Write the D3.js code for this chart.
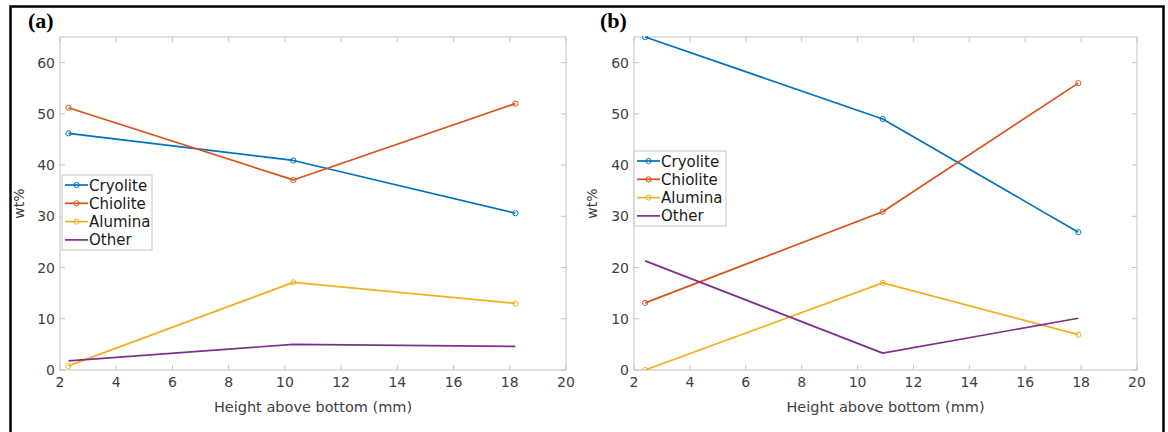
<!DOCTYPE html>
<html>
<head>
<meta charset="utf-8">
<script src="https://cdn.jsdelivr.net/npm/d3@7"></script>
<style>
  html, body { margin: 0; padding: 0; background: #fff; }
  svg { display: block; }
  text { font-family: "DejaVu Sans", sans-serif; }
  text.panel-label { font-family: "Liberation Serif", "Times New Roman", serif; font-weight: bold; }
</style>
</head>
<body>
<svg id="fig" width="1168" height="432"></svg>
<script>
// Composition (wt%) of bath phases versus height above the bottom
const seriesNames = ["Cryolite", "Chiolite", "Alumina", "Other"];
const seriesColors = ["#0072BD", "#D95319", "#EDB120", "#7E2F8E"];
const seriesMarkers = [true, true, true, false];

const xTicks = [2, 4, 6, 8, 10, 12, 14, 16, 18, 20];
const yTicks = [0, 10, 20, 30, 40, 50, 60];

// Panel (a)
const heightA   = [2.3, 10.3, 18.2];
const cryoliteA = [46.2, 40.9, 30.6];
const chioliteA = [51.2, 37.1, 52.0];
const aluminaA  = [0.8, 17.1, 13.0];
const otherA    = [1.8, 5.0, 4.6];

// Panel (b)
const heightB   = [2.4, 10.9, 17.9];
const cryoliteB = [65.0, 49.0, 26.9];
const chioliteB = [13.1, 30.9, 56.0];
const aluminaB  = [0.0, 17.0, 6.9];
const otherB    = [21.3, 3.3, 10.1];

const svg = d3.select("#fig");

// outer frame
svg.append("rect")
  .attr("x", 10.5).attr("y", 6.5)
  .attr("width", 1153).attr("height", 440)
  .attr("fill", "none").attr("stroke", "#000").attr("stroke-width", 2.5);

function panel(opts) {
  const { label, labelX, left, right, top, bottom, xs, series, legend, yLabelX } = opts;
  const g = svg.append("g");
  const x = d3.scaleLinear().domain([2, 20]).range([left, right]);
  const y = d3.scaleLinear().domain([0, 65]).range([bottom, top]);
  const axisColor = "#c4c4c4";
  const textColor = "#404040";

  // axes box
  g.append("rect")
    .attr("x", left).attr("y", top)
    .attr("width", right - left).attr("height", bottom - top)
    .attr("fill", "#fff").attr("stroke", axisColor).attr("stroke-width", 1);

  // ticks (inward, all four sides)
  const tl = 5;
  xTicks.forEach(v => {
    const px = x(v);
    g.append("line").attr("x1", px).attr("x2", px).attr("y1", bottom).attr("y2", bottom - tl)
      .attr("stroke", axisColor);
    g.append("line").attr("x1", px).attr("x2", px).attr("y1", top).attr("y2", top + tl)
      .attr("stroke", axisColor);
  });
  yTicks.forEach(v => {
    const py = y(v);
    g.append("line").attr("x1", left).attr("x2", left + tl).attr("y1", py).attr("y2", py)
      .attr("stroke", axisColor);
    g.append("line").attr("x1", right).attr("x2", right - tl).attr("y1", py).attr("y2", py)
      .attr("stroke", axisColor);
  });

  // tick labels
  g.selectAll(".xt").data(xTicks).join("text")
    .attr("x", d => x(d)).attr("y", bottom + 17)
    .attr("text-anchor", "middle").attr("font-size", 14).attr("fill", textColor)
    .text(d => d);
  g.selectAll(".yt").data(yTicks).join("text")
    .attr("x", left - 5).attr("y", d => y(d) + 5)
    .attr("text-anchor", "end").attr("font-size", 14).attr("fill", textColor)
    .text(d => d);

  // axis titles
  g.append("text")
    .attr("x", (left + right) / 2).attr("y", bottom + 42)
    .attr("text-anchor", "middle").attr("font-size", 14.5).attr("fill", textColor)
    .text("Height above bottom (mm)");
  g.append("text")
    .attr("transform", `translate(${yLabelX},${(top + bottom) / 2}) rotate(-90)`)
    .attr("text-anchor", "middle").attr("font-size", 14).attr("fill", textColor)
    .text("wt%");

  // data lines
  const clipId = "clip-" + label.replace(/\W/g, "");
  g.append("clipPath").attr("id", clipId).append("rect")
    .attr("x", left).attr("y", top - 1).attr("width", right - left).attr("height", bottom - top + 1);
  const plot = g.append("g").attr("clip-path", `url(#${clipId})`);
  const line = d3.line().x(d => x(d[0])).y(d => y(d[1]));
  series.forEach((vals, i) => {
    const pts = xs.map((h, k) => [h, vals[k]]);
    plot.append("path").datum(pts)
      .attr("d", line).attr("fill", "none")
      .attr("stroke", seriesColors[i]).attr("stroke-width", 1.7)
      .attr("stroke-linejoin", "round");
    if (seriesMarkers[i]) {
      plot.selectAll(null).data(pts).join("circle")
        .attr("cx", d => x(d[0])).attr("cy", d => y(d[1])).attr("r", 2.6)
        .attr("fill", "none").attr("stroke", seriesColors[i]).attr("stroke-width", 1);
    }
  });

  // legend
  const lg = g.append("g");
  lg.append("rect")
    .attr("x", legend.x).attr("y", legend.y)
    .attr("width", legend.w).attr("height", legend.h)
    .attr("fill", "#fff").attr("stroke", "#c4c4c4").attr("stroke-width", 1);
  seriesNames.forEach((name, i) => {
    const cy = legend.y + 10 + i * 18.3;
    lg.append("line")
      .attr("x1", legend.x + 3).attr("x2", legend.x + 26)
      .attr("y1", cy).attr("y2", cy)
      .attr("stroke", seriesColors[i]).attr("stroke-width", 1.7);
    if (seriesMarkers[i]) {
      lg.append("circle").attr("cx", legend.x + 14.5).attr("cy", cy).attr("r", 2.6)
        .attr("fill", "none").attr("stroke", seriesColors[i]).attr("stroke-width", 1);
    }
    lg.append("text")
      .attr("x", legend.x + 27).attr("y", cy + 5.5)
      .attr("font-size", 15).attr("fill", "#1a1a1a")
      .text(name);
  });

  // panel label
  svg.append("text")
    .attr("class", "panel-label")
    .attr("x", labelX).attr("y", 28)
    .attr("font-size", 22).attr("fill", "#000")
    .text(label);
}

panel({
  label: "(a)", labelX: 28,
  left: 60, right: 566, top: 37, bottom: 370,
  xs: heightA,
  series: [cryoliteA, chioliteA, aluminaA, otherA],
  legend: { x: 62, y: 175, w: 90, h: 75 },
  yLabelX: 24
});

panel({
  label: "(b)", labelX: 600,
  left: 634, right: 1137, top: 37, bottom: 370,
  xs: heightB,
  series: [cryoliteB, chioliteB, aluminaB, otherB],
  legend: { x: 634, y: 151, w: 92, h: 75 },
  yLabelX: 597
});
</script>
</body>
</html>
